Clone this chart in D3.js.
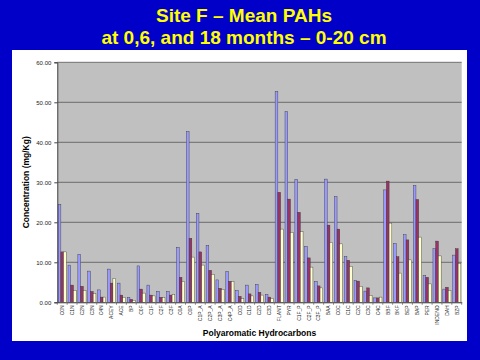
<!DOCTYPE html>
<html>
<head>
<meta charset="utf-8">
<script src="https://cdn.jsdelivr.net/npm/d3@7"></script>
<style>
  body { margin: 0; background: #0000c8; }
  svg { display: block; font-family: "Liberation Sans", Arial, sans-serif; }
</style>
</head>
<body>
<svg id="chart"></svg>
<script>
// PAH compounds on the x axis
const categories = ["C0N", "C1N", "C2N", "C3N", "C4N", "ACEY", "ACE", "BP", "C0F", "C1F", "C2F", "C3F",
  "C0A", "C0P", "C1P_A", "C2P_A", "C3P_A", "C4P_A", "C0D", "C1D", "C2D", "C3D", "FLANT", "PYR",
  "C1F_P", "C2F_P", "C3F_P", "BAA", "C0C", "C1C", "C2C", "C3C", "C4C", "BBF", "BKF", "BEP", "BAP",
  "PER", "INDENO", "DAH", "BZP"];

// mean concentration (mg/Kg) at 0, 6 and 18 months
const month0 = [24.5, 9.3, 12.0, 7.8, 3.1, 8.3, 4.8, 1.25, 9.1, 4.3, 2.75, 2.75,
  13.75, 42.7, 22.25, 14.2, 5.6, 7.75, 3.0, 4.3, 4.5, 2.0, 52.7, 47.7,
  30.75, 14.0, 5.25, 30.8, 26.4, 11.4, 5.5, 2.8, 1.1, 28.1, 14.7, 16.9, 29.2,
  6.7, 13.4, 3.3, 11.8];
const month6 = [12.6, 4.3, 4.0, 2.7, 1.3, 4.8, 1.8, 0.75, 3.3, 1.8, 1.25, 1.8,
  6.25, 16.0, 12.6, 8.0, 3.5, 5.25, 1.5, 2.1, 2.5, 1.3, 27.5, 25.8,
  22.5, 11.1, 4.1, 19.3, 18.3, 10.5, 5.3, 3.6, 1.1, 30.3, 11.4, 15.6, 25.7,
  6.25, 15.3, 3.75, 13.4];
const month18 = [12.6, 3.0, 3.0, 2.25, 1.3, 6.0, 1.25, 0.5, 2.3, 1.6, 1.25, 2.0,
  5.25, 11.3, 9.3, 7.0, 3.25, 5.25, 1.0, 1.6, 1.8, 1.0, 18.3, 17.5,
  17.7, 8.8, 3.6, 15.0, 14.6, 9.0, 4.0, 1.75, 1.3, 19.8, 7.3, 10.6, 16.3,
  4.6, 11.6, 3.0, 9.75];

const seriesNames = ["0", "6", "18"];
const yTicks = [0, 10, 20, 30, 40, 50, 60];

const width = 480, height = 360;
const plot = { left: 57.3, right: 461.7, top: 62.3, bottom: 302.3 };
const colors = ["#9999ff", "#993366", "#ffffcc"];

const svg = d3.select("#chart").attr("width", width).attr("height", height);

svg.append("rect").attr("width", width).attr("height", height).attr("fill", "#0000c8");

// title
const title = svg.append("text")
  .attr("x", 244)
  .attr("text-anchor", "middle")
  .attr("fill", "#ffff00")
  .attr("font-weight", "bold")
  .attr("font-size", "19px");
title.append("tspan").attr("x", 244).attr("y", 22).text("Site F \u2013 Mean PAHs");
title.append("tspan").attr("x", 244).attr("y", 44).text("at 0,6, and 18 months \u2013 0-20 cm");

// white chart area
svg.append("rect")
  .attr("x", 12).attr("y", 50)
  .attr("width", 455).attr("height", 291)
  .attr("fill", "#ffffff");

// scales
const x0 = d3.scaleBand()
  .domain(categories)
  .range([plot.left, plot.right])
  .paddingInner(0.17)
  .paddingOuter(0.085);

const x1 = d3.scaleBand()
  .domain(seriesNames)
  .range([0, x0.bandwidth()]);

const y = d3.scaleLinear().domain([0, 60]).range([plot.bottom, plot.top]);

// plot area
svg.append("rect")
  .attr("x", plot.left).attr("y", plot.top)
  .attr("width", plot.right - plot.left).attr("height", plot.bottom - plot.top)
  .attr("fill", "#c0c0c0");

svg.append("g")
  .selectAll("line")
  .data(yTicks.filter(d => d > 0))
  .join("line")
  .attr("x1", plot.left).attr("x2", plot.right)
  .attr("y1", d => y(d)).attr("y2", d => y(d))
  .attr("stroke", "#555")
  .attr("stroke-width", 0.8);

// bars
const rows = categories.map((c, i) => ({
  cat: c,
  vals: [month0[i], month6[i], month18[i]]
}));

svg.append("g")
  .selectAll("g")
  .data(rows)
  .join("g")
  .attr("transform", d => `translate(${x0(d.cat)},0)`)
  .selectAll("rect")
  .data(d => d.vals.map((v, k) => ({ key: seriesNames[k], v: v, k: k })))
  .join("rect")
  .attr("x", d => x1(d.key))
  .attr("width", x1.bandwidth())
  .attr("y", d => y(d.v))
  .attr("height", d => y(0) - y(d.v))
  .attr("fill", d => colors[d.k])
  .attr("stroke", "#333")
  .attr("stroke-width", 0.4);

// axes
const yAxis = d3.axisLeft(y).tickValues(yTicks).tickFormat(d3.format(".2f")).tickSize(3).tickPadding(3);
const yAxisG = svg.append("g").attr("transform", `translate(${plot.left},0)`).call(yAxis);
yAxisG.selectAll("text").attr("font-size", "6px").attr("fill", "#222").attr("font-family", "Liberation Sans, Arial, sans-serif");
yAxisG.selectAll("line, path").attr("stroke", "#444");

const xAxis = d3.axisBottom(x0).tickSize(0).tickPadding(0);
const xAxisG = svg.append("g").attr("transform", `translate(0,${plot.bottom})`).call(xAxis);
xAxisG.select(".domain").attr("stroke", "#444");
xAxisG.selectAll("text")
  .attr("font-size", "5px")
  .attr("fill", "#222")
  .attr("font-family", "Liberation Sans, Arial, sans-serif")
  .attr("text-anchor", "end")
  .attr("dy", null)
  .attr("transform", "translate(1.8,3) rotate(-90)");

// category boundary ticks
svg.append("g")
  .selectAll("line")
  .data(d3.range(categories.length + 1))
  .join("line")
  .attr("x1", i => plot.left + i * x0.step())
  .attr("x2", i => plot.left + i * x0.step())
  .attr("y1", plot.bottom).attr("y2", plot.bottom + 2.5)
  .attr("stroke", "#444").attr("stroke-width", 0.6);

// axis titles
svg.append("text")
  .attr("transform", `translate(29,${(plot.top + plot.bottom) / 2}) rotate(-90)`)
  .attr("text-anchor", "middle")
  .attr("font-size", "8.5px")
  .attr("font-weight", "bold")
  .text("Concentration (mg/Kg)");

svg.append("text")
  .attr("x", (plot.left + plot.right) / 2)
  .attr("y", 336)
  .attr("text-anchor", "middle")
  .attr("font-size", "8.5px")
  .attr("font-weight", "bold")
  .text("Polyaromatic Hydrocarbons");
</script>
</body>
</html>
